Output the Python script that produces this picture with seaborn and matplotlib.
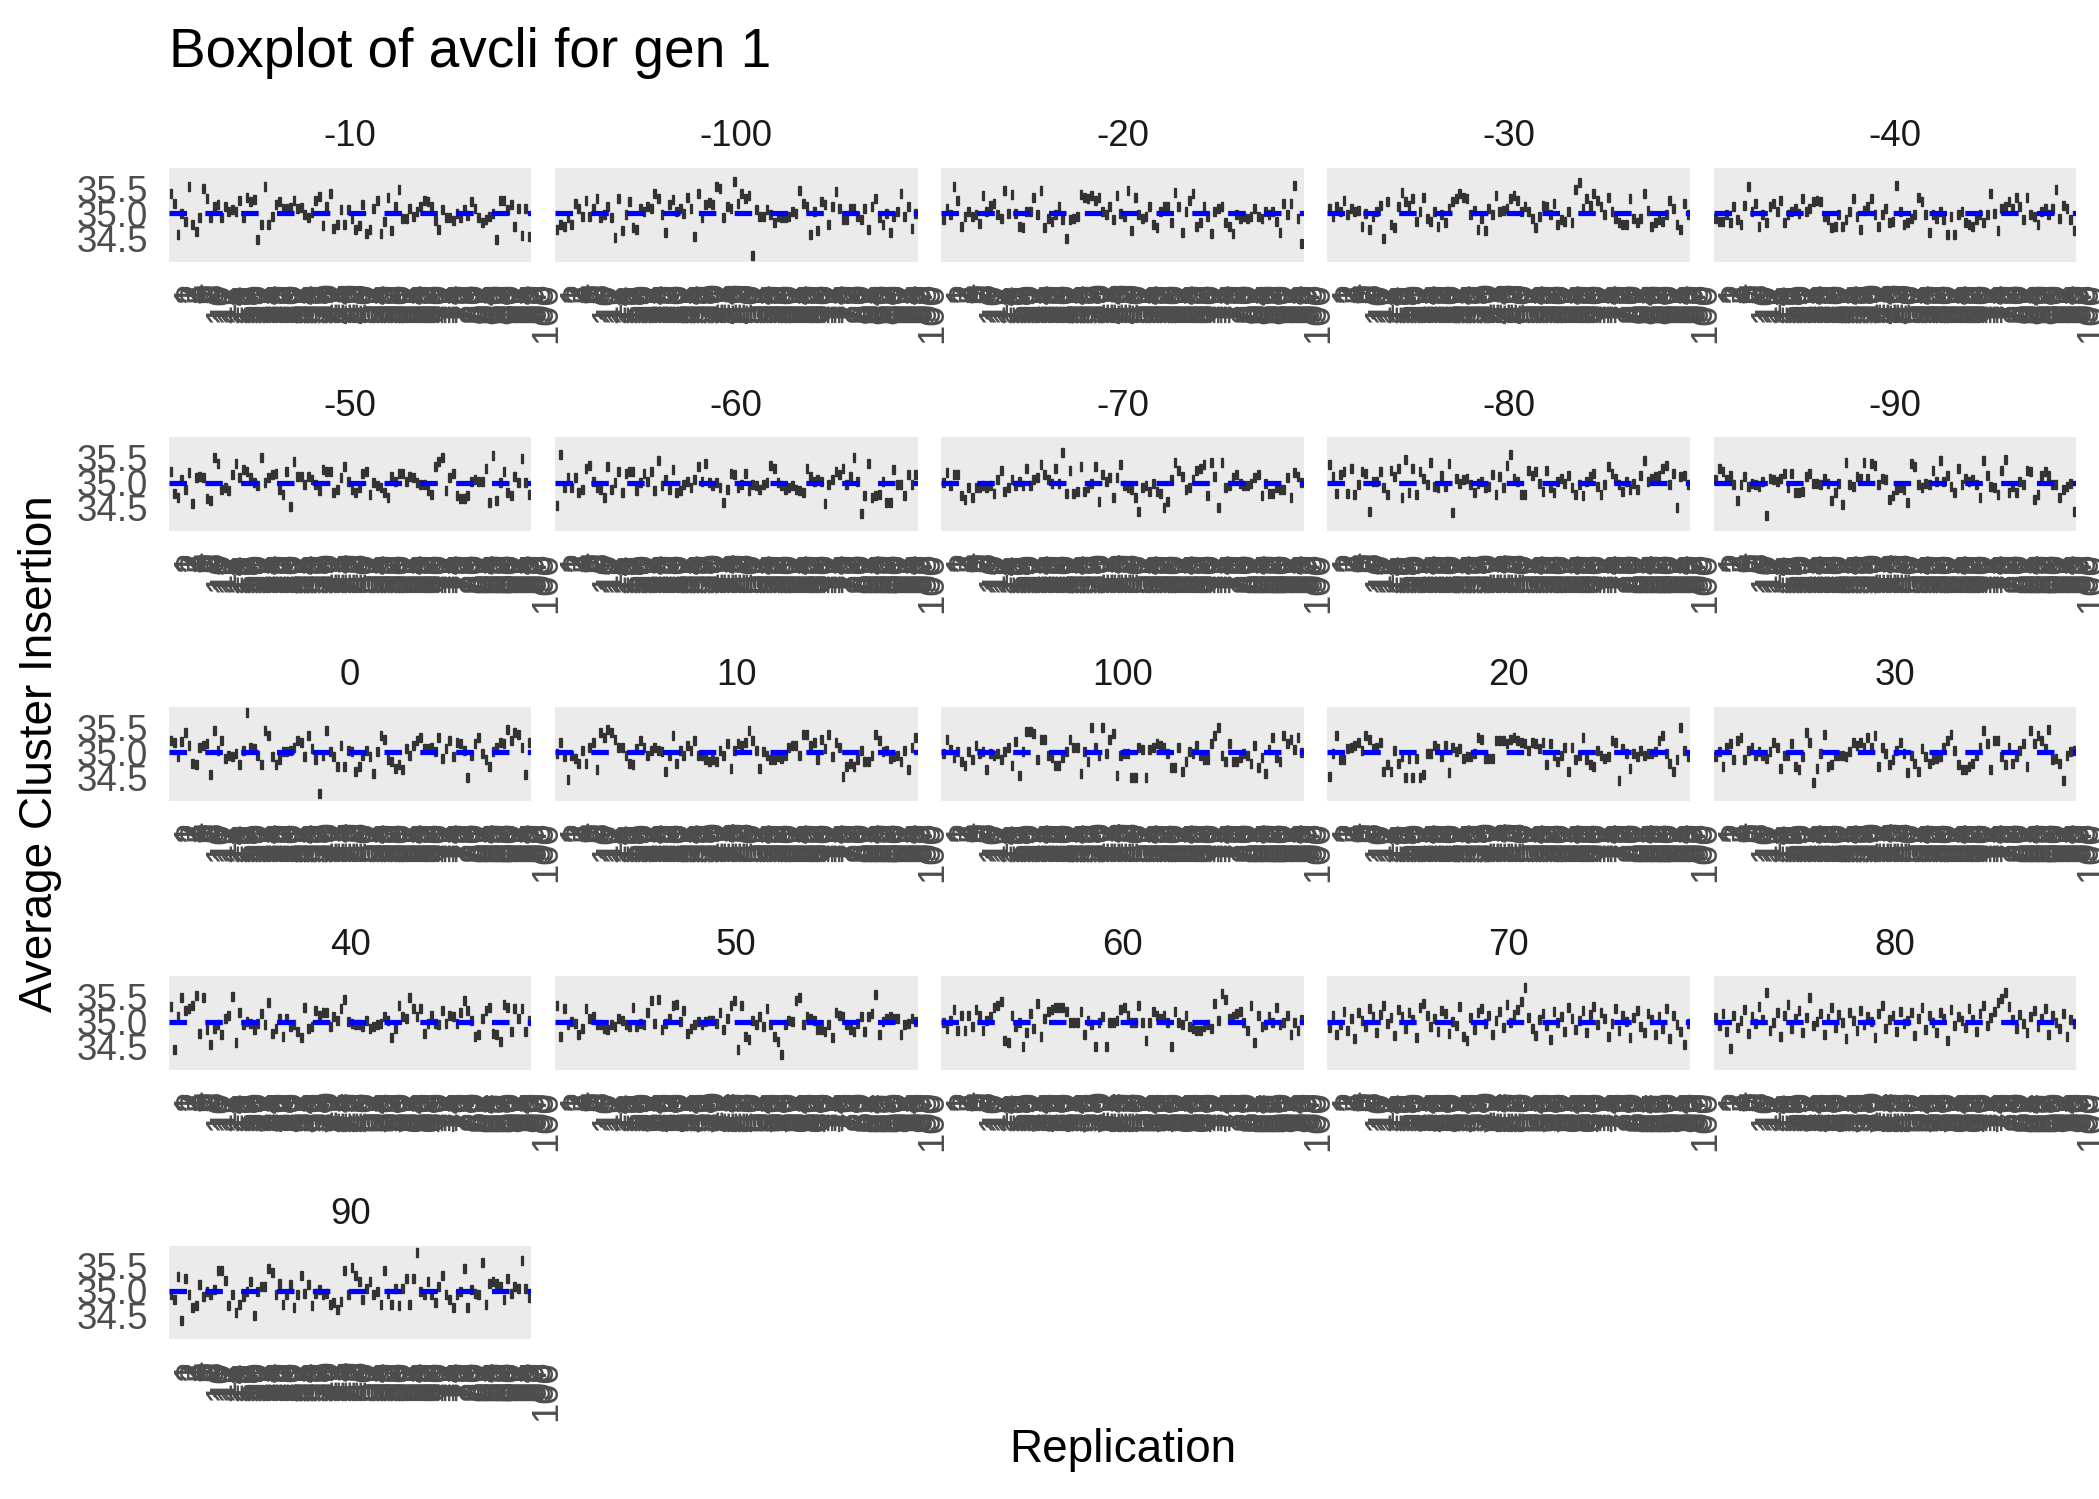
import numpy as np
import pandas as pd
import seaborn as sns
import matplotlib
matplotlib.use("Agg")
import matplotlib.pyplot as plt

sns.set_theme(style="white")
plt.rcParams["font.family"] = ["Liberation Sans", "DejaVu Sans"]

# facet labels in the order ggplot lays them out (string sort)
facets = ["-10", "-100", "-20", "-30", "-40",
          "-50", "-60", "-70", "-80", "-90",
          "0", "10", "100", "20", "30",
          "40", "50", "60", "70", "80",
          "90"]
replications = list(range(1, 101))

# per-replication box centre (left to right)
avcli_m10 = [35.39, 35.19, 34.57, 35.00, 34.83, 35.54, 34.78, 34.63, 34.91, 35.50,
             35.30, 34.91, 35.14, 35.18, 34.92, 35.14, 35.04, 35.07, 35.04, 35.26,
             34.91, 35.32, 35.23, 35.28, 34.47, 34.78, 35.53, 34.78, 34.94, 35.17,
             35.23, 35.10, 35.10, 35.12, 35.26, 35.10, 35.12, 34.97, 34.91, 35.02,
             35.26, 35.33, 34.75, 35.14, 35.39, 34.70, 34.78, 35.07, 34.78, 35.07,
             34.90, 34.68, 34.75, 35.17, 34.60, 34.68, 35.10, 35.25, 34.59, 34.83,
             35.32, 34.65, 35.14, 35.47, 34.90, 34.90, 35.10, 34.94, 35.04, 35.14,
             35.26, 35.24, 35.14, 34.85, 34.68, 35.07, 34.91, 34.91, 34.85, 35.00,
             34.91, 35.07, 34.95, 35.23, 35.10, 34.92, 34.81, 34.88, 34.94, 35.00,
             34.47, 35.26, 35.26, 35.07, 35.17, 34.73, 35.10, 34.55, 35.10, 34.54]
avcli_m100 = [34.68, 34.78, 34.73, 34.91, 34.78, 35.20, 35.10, 34.94, 35.26, 34.94,
              35.10, 35.30, 34.91, 34.97, 35.14, 34.91, 34.52, 35.30, 34.65, 34.97,
              35.23, 34.72, 34.67, 35.10, 35.04, 35.14, 35.10, 35.39, 35.30, 34.97,
              34.62, 35.17, 35.28, 35.04, 35.10, 35.00, 35.31, 35.10, 34.54, 35.39,
              34.91, 35.17, 35.22, 35.17, 35.54, 35.49, 34.91, 35.14, 35.10, 35.63,
              35.20, 35.39, 35.30, 35.35, 34.15, 35.07, 34.94, 34.94, 35.07, 34.97,
              34.81, 34.94, 34.91, 34.91, 34.94, 35.04, 35.00, 35.45, 35.20, 35.14,
              34.57, 35.04, 34.66, 35.23, 35.17, 34.78, 35.14, 35.43, 35.10, 34.88,
              34.88, 35.10, 35.10, 34.94, 34.88, 35.10, 34.68, 35.14, 35.30, 34.91,
              34.78, 35.00, 34.62, 34.94, 35.04, 35.39, 34.94, 35.14, 34.70, 34.99]
avcli_m20 = [34.87, 35.10, 34.97, 35.54, 35.25, 34.74, 34.94, 35.03, 34.94, 34.97,
             34.79, 35.35, 35.03, 35.16, 35.19, 34.97, 34.90, 35.45, 35.00, 35.37,
             35.00, 34.74, 34.72, 35.03, 35.03, 35.31, 34.97, 35.45, 34.71, 34.90,
             34.84, 34.97, 35.13, 34.87, 34.50, 34.87, 34.90, 34.94, 35.37, 35.31,
             35.29, 35.35, 35.26, 35.32, 35.03, 34.97, 35.13, 34.87, 35.35, 35.00,
             34.94, 35.45, 34.65, 35.32, 34.97, 34.90, 34.94, 35.13, 34.77, 34.71,
             35.03, 35.13, 35.13, 34.81, 35.42, 35.13, 34.61, 35.03, 35.26, 35.39,
             34.74, 34.81, 35.13, 34.94, 34.59, 35.03, 35.10, 35.13, 34.81, 34.74,
             34.59, 34.97, 34.90, 34.94, 34.90, 34.94, 35.10, 34.94, 34.90, 35.03,
             34.97, 35.03, 34.84, 34.61, 35.19, 34.97, 35.19, 35.55, 34.90, 34.39]
avcli_m30 = [35.10, 34.94, 35.13, 35.03, 35.26, 34.97, 35.10, 35.03, 35.06, 34.74,
             35.00, 34.68, 34.94, 35.03, 35.16, 34.50, 35.23, 34.77, 34.71, 35.13,
             35.42, 35.23, 35.16, 35.29, 34.84, 35.03, 35.32, 34.90, 34.84, 35.03,
             34.74, 34.97, 34.81, 35.10, 35.23, 35.29, 35.39, 35.32, 35.29, 34.97,
             35.06, 34.68, 34.90, 34.65, 35.10, 34.97, 35.35, 35.03, 35.06, 35.10,
             35.29, 35.35, 35.26, 35.03, 35.13, 35.03, 34.90, 34.71, 34.94, 35.16,
             35.13, 34.97, 35.19, 34.77, 34.87, 34.84, 35.03, 34.81, 35.48, 35.61,
             35.10, 35.29, 35.16, 35.39, 35.26, 35.13, 34.97, 35.32, 35.03, 34.90,
             34.81, 34.77, 34.77, 35.29, 34.90, 34.81, 34.90, 35.39, 35.06, 34.74,
             34.81, 34.87, 34.84, 34.97, 35.26, 35.10, 34.77, 34.68, 35.19, 34.97]
avcli_m40 = [34.90, 34.84, 34.84, 34.97, 34.81, 35.13, 34.87, 34.77, 35.16, 35.54,
             35.03, 35.19, 34.74, 34.97, 34.81, 35.13, 35.19, 35.03, 35.26, 34.81,
             34.97, 35.03, 35.10, 35.00, 35.29, 35.03, 35.10, 35.23, 35.26, 35.23,
             34.94, 34.87, 34.71, 34.74, 34.97, 34.74, 34.87, 35.03, 35.29, 34.94,
             34.68, 35.06, 35.13, 35.29, 34.97, 34.74, 34.97, 35.10, 34.81, 34.84,
             35.56, 35.03, 34.77, 34.81, 34.90, 34.97, 35.32, 35.23, 34.97, 34.61,
             34.97, 34.90, 35.03, 34.87, 34.58, 34.94, 34.58, 34.97, 35.03, 34.81,
             34.77, 34.74, 34.87, 34.97, 34.81, 34.97, 35.39, 35.00, 34.65, 35.10,
             35.13, 35.23, 35.10, 35.32, 35.13, 34.87, 35.32, 34.97, 34.94, 34.77,
             35.03, 35.10, 34.97, 35.10, 35.47, 34.90, 35.16, 35.10, 34.87, 34.65]
avcli_m50 = [35.22, 34.79, 34.71, 35.06, 34.87, 35.21, 34.59, 35.11, 35.13, 35.10,
             34.68, 34.65, 35.51, 35.38, 34.87, 34.90, 34.84, 35.16, 35.38, 35.10,
             35.26, 35.22, 35.10, 35.00, 34.94, 35.51, 35.00, 35.10, 35.16, 35.19,
             34.87, 34.77, 35.22, 34.53, 35.42, 35.13, 35.13, 34.96, 35.13, 35.06,
             34.96, 34.84, 35.26, 35.22, 35.22, 34.81, 34.87, 35.10, 35.32, 35.03,
             34.87, 34.81, 34.90, 35.19, 35.22, 34.77, 35.00, 34.94, 34.90, 34.81,
             34.71, 35.13, 35.03, 35.19, 35.19, 35.03, 35.13, 35.10, 35.00, 34.96,
             34.96, 34.84, 34.77, 35.32, 35.42, 35.51, 34.84, 35.10, 35.19, 34.74,
             34.68, 34.68, 34.74, 35.03, 35.06, 35.03, 35.03, 35.29, 34.61, 35.54,
             34.65, 35.00, 35.22, 34.81, 34.74, 35.13, 35.00, 35.49, 35.00, 34.77]
avcli_m60 = [34.55, 35.57, 34.90, 35.10, 34.90, 35.10, 34.81, 34.87, 35.29, 35.35,
             35.03, 34.90, 34.87, 34.71, 35.32, 34.87, 35.00, 35.22, 34.81, 35.19,
             35.22, 35.22, 34.84, 35.00, 35.19, 35.03, 35.22, 34.84, 35.45, 34.94,
             35.06, 34.87, 35.26, 34.81, 34.84, 34.96, 35.03, 34.90, 35.06, 35.32,
             35.03, 35.38, 35.00, 34.94, 35.00, 34.90, 34.61, 34.87, 35.19, 35.16,
             34.90, 34.96, 35.19, 34.84, 34.96, 34.94, 34.87, 34.96, 35.00, 35.35,
             35.29, 35.00, 34.94, 34.87, 34.90, 34.94, 34.87, 34.84, 34.81, 35.29,
             35.13, 35.03, 35.06, 35.03, 34.58, 34.96, 35.06, 35.22, 35.16, 35.29,
             34.96, 35.13, 35.51, 35.03, 34.38, 34.74, 35.38, 34.71, 34.74, 34.77,
             35.03, 34.61, 34.61, 35.26, 34.96, 34.96, 34.74, 35.16, 34.96, 35.16]
avcli_m70 = [35.00, 35.21, 34.94, 35.17, 35.17, 34.74, 34.66, 34.90, 34.70, 34.90,
             34.90, 34.94, 34.90, 34.94, 34.78, 35.06, 35.25, 34.82, 34.90, 35.06,
             34.94, 35.02, 34.94, 35.29, 34.94, 35.06, 35.10, 35.37, 35.17, 35.06,
             34.98, 35.29, 34.98, 35.61, 34.78, 35.25, 34.78, 34.82, 35.33, 34.82,
             34.90, 34.98, 35.33, 34.62, 35.17, 35.02, 35.10, 34.70, 35.10, 35.37,
             34.94, 34.90, 34.86, 34.70, 34.42, 34.90, 34.94, 34.82, 34.98, 34.82,
             34.78, 34.50, 34.62, 35.06, 35.41, 35.25, 35.13, 34.86, 34.90, 35.06,
             35.25, 35.29, 35.37, 34.74, 35.41, 35.13, 34.50, 35.41, 34.90, 34.94,
             35.10, 35.17, 34.98, 34.94, 34.94, 34.98, 35.10, 35.17, 34.74, 34.98,
             34.78, 34.78, 34.90, 34.86, 34.86, 35.10, 34.70, 35.21, 35.13, 35.00]
avcli_m80 = [35.36, 35.12, 34.78, 35.17, 35.22, 34.78, 35.28, 34.77, 34.96, 35.22,
             35.19, 34.43, 35.03, 35.03, 35.22, 34.90, 34.77, 35.25, 35.12, 35.28,
             34.70, 35.46, 34.80, 35.28, 34.77, 35.22, 35.09, 34.96, 35.41, 34.93,
             34.90, 35.15, 34.93, 35.38, 34.40, 35.09, 34.99, 35.06, 35.09, 34.96,
             34.80, 34.99, 35.03, 34.90, 34.93, 35.17, 34.77, 35.12, 34.90, 35.35,
             35.57, 35.09, 35.03, 34.77, 34.77, 35.25, 35.15, 35.22, 34.99, 34.83,
             35.25, 34.90, 34.80, 35.03, 35.09, 34.99, 35.15, 34.90, 34.77, 34.96,
             34.74, 35.03, 35.12, 35.19, 34.93, 34.77, 34.96, 35.32, 35.19, 35.09,
             34.96, 34.83, 35.03, 34.86, 34.99, 34.86, 35.15, 35.44, 35.03, 35.09,
             35.12, 35.15, 35.28, 35.35, 34.96, 35.19, 34.50, 35.12, 35.15, 34.96]
avcli_m90 = [35.06, 35.28, 35.22, 35.06, 35.15, 34.96, 34.64, 34.96, 35.12, 34.93,
             34.99, 34.96, 34.93, 35.03, 34.35, 35.09, 35.06, 35.03, 35.09, 35.19,
             34.90, 35.19, 34.80, 34.80, 34.83, 35.12, 35.19, 34.99, 34.99, 34.96,
             35.09, 34.99, 34.64, 34.80, 34.99, 34.57, 35.40, 34.96, 34.93, 35.12,
             35.09, 35.41, 35.09, 35.38, 35.35, 34.96, 35.09, 35.06, 34.67, 34.74,
             34.86, 34.90, 34.86, 34.61, 35.38, 35.32, 34.96, 34.90, 34.99, 34.96,
             35.25, 35.03, 35.44, 35.03, 35.15, 34.93, 34.80, 35.28, 34.96, 35.09,
             35.03, 35.06, 34.96, 34.70, 35.44, 35.15, 34.93, 34.90, 34.77, 35.25,
             35.46, 34.80, 34.93, 34.80, 35.03, 34.96, 35.25, 35.22, 34.67, 34.77,
             35.15, 35.22, 35.15, 34.96, 34.96, 34.70, 34.86, 34.93, 34.99, 34.42]
avcli_0 = [35.23, 35.20, 34.91, 35.21, 35.39, 35.14, 34.78, 34.75, 35.10, 35.14,
           35.17, 34.55, 35.43, 35.04, 35.23, 34.88, 34.94, 34.91, 34.97, 34.75,
           35.04, 35.79, 35.10, 35.07, 34.94, 34.75, 35.43, 35.33, 34.91, 34.75,
           34.85, 35.01, 35.01, 35.04, 35.10, 35.23, 35.20, 34.91, 35.33, 35.07,
           34.85, 34.17, 34.94, 35.43, 35.01, 34.91, 34.72, 35.14, 34.72, 35.04,
           35.01, 34.61, 34.72, 34.94, 35.04, 34.91, 34.57, 35.01, 35.33, 35.26,
           34.85, 34.81, 34.68, 34.75, 34.65, 35.07, 34.94, 35.14, 35.23, 35.30,
           35.07, 35.07, 35.10, 35.01, 35.30, 34.88, 35.07, 35.23, 34.91, 35.20,
           35.17, 35.04, 34.49, 34.94, 35.17, 35.30, 34.97, 34.85, 34.72, 35.01,
           35.10, 35.20, 35.17, 35.46, 35.23, 35.39, 35.36, 35.10, 34.55, 35.20]
avcli_10 = [34.97, 35.20, 34.91, 34.46, 34.94, 34.88, 34.78, 35.04, 34.78, 35.10,
            35.20, 34.65, 35.39, 35.30, 35.46, 35.39, 35.26, 35.10, 35.10, 34.94,
            34.78, 34.75, 35.07, 35.23, 35.10, 34.94, 35.04, 35.10, 35.04, 35.01,
            34.61, 34.94, 35.33, 34.78, 35.04, 34.94, 35.14, 35.04, 35.23, 34.94,
            34.94, 34.85, 34.81, 34.85, 34.81, 35.04, 34.94, 35.17, 34.68, 35.04,
            35.17, 35.14, 35.20, 35.43, 35.23, 35.04, 34.68, 35.01, 34.94, 34.85,
            34.85, 34.91, 34.88, 34.94, 35.10, 35.14, 35.14, 34.94, 35.36, 35.36,
            35.14, 35.20, 34.85, 35.26, 35.07, 35.36, 34.91, 35.20, 35.10, 34.52,
            34.72, 34.78, 34.72, 34.85, 35.04, 34.81, 34.81, 34.94, 35.36, 35.23,
            35.01, 35.04, 34.88, 34.91, 34.94, 34.81, 35.04, 34.65, 35.10, 35.30]
avcli_100 = [34.98, 35.25, 35.05, 34.89, 35.01, 34.81, 34.73, 35.01, 34.85, 35.13,
             34.98, 35.01, 34.65, 34.98, 34.93, 34.98, 34.85, 35.01, 35.09, 34.73,
             35.21, 34.53, 35.01, 35.41, 35.41, 35.37, 34.85, 35.25, 35.25, 34.93,
             34.89, 34.73, 34.73, 34.89, 35.01, 35.25, 35.09, 35.09, 34.57, 35.01,
             34.81, 35.49, 35.09, 34.93, 35.49, 34.98, 35.25, 35.37, 34.53, 34.93,
             34.98, 34.98, 34.49, 34.49, 35.09, 35.05, 34.49, 35.05, 35.09, 35.17,
             35.13, 35.09, 34.98, 34.69, 34.69, 35.09, 34.61, 34.81, 35.01, 34.98,
             35.13, 34.93, 34.85, 34.85, 35.17, 35.33, 35.49, 34.93, 34.81, 35.17,
             34.81, 34.81, 34.89, 34.98, 34.93, 34.77, 35.13, 34.69, 34.89, 34.57,
             35.05, 35.29, 34.89, 34.81, 35.33, 35.17, 35.25, 35.05, 35.29, 35.00]
avcli_20 = [34.52, 34.97, 35.33, 34.85, 34.85, 35.07, 35.10, 35.14, 35.20, 35.04,
            35.33, 35.26, 35.07, 35.10, 35.20, 34.61, 34.75, 34.61, 35.04, 34.78,
            34.91, 34.49, 34.88, 34.49, 34.88, 34.49, 34.55, 34.97, 34.97, 35.14,
            35.07, 34.91, 35.14, 34.59, 35.10, 35.01, 35.07, 34.88, 34.91, 34.91,
            34.97, 35.30, 35.26, 34.88, 34.88, 34.88, 35.23, 35.23, 35.23, 35.17,
            35.26, 35.30, 35.23, 35.20, 35.17, 35.04, 35.20, 35.17, 35.07, 35.20,
            34.75, 35.17, 34.94, 34.81, 34.94, 35.10, 34.61, 35.10, 34.85, 34.94,
            35.30, 34.85, 34.75, 34.72, 35.04, 34.94, 34.88, 34.91, 35.23, 35.20,
            34.43, 35.07, 34.97, 34.68, 34.97, 34.91, 35.04, 34.94, 34.97, 34.97,
            35.01, 35.23, 35.33, 34.97, 34.78, 34.61, 34.85, 35.49, 35.04, 34.91]
avcli_30 = [34.91, 35.01, 34.72, 35.10, 35.17, 34.85, 35.23, 35.30, 34.85, 35.04,
            35.10, 34.94, 35.01, 34.94, 34.88, 35.01, 35.20, 35.10, 34.68, 34.94,
            34.94, 35.17, 34.72, 34.65, 34.91, 35.39, 35.20, 34.40, 34.68, 34.97,
            35.36, 34.72, 34.75, 34.94, 34.94, 34.94, 34.91, 35.01, 35.20, 35.14,
            35.20, 35.10, 35.30, 35.10, 35.33, 34.72, 35.10, 34.97, 34.75, 34.85,
            35.04, 35.20, 34.97, 34.59, 34.94, 34.78, 34.61, 35.07, 34.91, 34.78,
            34.85, 34.88, 34.91, 35.10, 35.23, 35.36, 35.04, 34.75, 34.65, 34.65,
            34.72, 34.78, 34.94, 35.10, 35.43, 35.17, 34.65, 35.23, 35.23, 34.91,
            34.75, 35.10, 34.78, 34.91, 35.04, 35.17, 34.72, 35.43, 35.17, 35.33,
            35.23, 35.07, 35.46, 34.85, 34.88, 34.78, 34.43, 34.94, 35.01, 35.04]
avcli_40 = [35.31, 34.45, 35.10, 35.48, 35.23, 35.27, 35.32, 35.52, 34.77, 35.48,
            34.84, 34.55, 34.87, 34.94, 34.74, 35.06, 35.13, 35.50, 34.58, 35.19,
            34.94, 35.00, 34.97, 34.84, 34.97, 35.16, 34.94, 35.39, 34.77, 34.87,
            35.06, 34.71, 35.06, 34.90, 34.94, 34.81, 34.68, 35.29, 34.87, 34.90,
            35.23, 35.13, 35.19, 35.19, 34.90, 35.10, 35.03, 35.26, 35.45, 35.00,
            34.97, 34.94, 34.94, 34.90, 35.03, 34.87, 34.90, 34.94, 34.97, 35.10,
            35.03, 34.68, 34.87, 35.32, 35.10, 35.06, 35.48, 35.26, 35.10, 35.26,
            34.77, 34.97, 35.13, 34.97, 34.94, 35.23, 34.97, 35.13, 35.10, 34.97,
            35.19, 35.42, 35.23, 35.03, 34.71, 34.74, 35.06, 35.23, 35.29, 34.77,
            34.74, 34.61, 35.35, 35.29, 34.81, 35.26, 35.06, 35.26, 34.81, 35.03]
avcli_50 = [35.32, 34.71, 35.26, 34.94, 35.00, 34.97, 34.74, 34.87, 35.26, 35.06,
            35.10, 34.94, 34.94, 34.87, 34.84, 34.94, 34.90, 35.06, 35.03, 34.94,
            34.90, 35.29, 34.90, 34.97, 34.94, 35.19, 35.42, 34.97, 35.45, 34.84,
            34.97, 35.06, 35.32, 35.35, 35.00, 35.23, 34.77, 34.87, 34.94, 35.00,
            34.94, 35.00, 35.03, 35.03, 34.97, 35.19, 34.84, 35.06, 35.32, 35.42,
            34.45, 35.32, 34.71, 34.65, 35.03, 34.94, 35.10, 34.90, 35.26, 34.94,
            34.71, 34.61, 34.35, 34.94, 35.03, 35.00, 35.42, 35.48, 34.94, 35.10,
            35.06, 35.03, 34.84, 34.84, 34.81, 34.94, 34.68, 35.19, 35.13, 35.10,
            34.94, 34.84, 34.81, 34.97, 35.10, 34.81, 35.10, 35.16, 35.55, 34.74,
            35.00, 35.06, 35.10, 35.06, 35.06, 34.74, 34.94, 34.97, 35.06, 35.00]
avcli_60 = [34.98, 34.86, 35.02, 35.25, 34.82, 35.13, 34.82, 35.13, 34.90, 35.25,
            35.13, 34.82, 35.02, 35.10, 35.29, 35.33, 35.41, 34.62, 34.58, 35.13,
            34.90, 34.98, 34.50, 34.78, 35.17, 34.86, 35.37, 34.70, 35.06, 35.21,
            35.25, 35.29, 35.29, 35.29, 35.21, 34.98, 34.98, 34.98, 35.21, 34.74,
            35.02, 34.94, 34.50, 34.98, 35.10, 34.50, 34.98, 34.98, 35.02, 35.25,
            35.29, 35.13, 34.98, 34.98, 35.33, 34.98, 34.62, 34.98, 35.21, 35.13,
            35.06, 35.13, 34.98, 34.50, 35.21, 34.98, 34.94, 35.13, 34.90, 34.86,
            34.82, 34.82, 34.90, 34.94, 34.86, 35.37, 35.02, 35.57, 35.45, 35.06,
            35.10, 35.17, 35.21, 34.98, 34.82, 35.33, 34.58, 35.13, 34.90, 34.94,
            35.10, 34.98, 35.29, 34.94, 34.98, 35.13, 34.74, 34.98, 34.82, 35.05]
avcli_70 = [34.88, 35.12, 34.74, 34.95, 35.21, 34.83, 35.06, 34.66, 35.18, 35.02,
            34.91, 35.27, 35.10, 34.79, 35.15, 35.33, 34.97, 35.08, 34.72, 35.24,
            35.11, 34.86, 35.19, 35.04, 34.69, 35.28, 35.36, 35.13, 34.90, 35.07,
            34.81, 35.22, 35.16, 34.77, 35.01, 34.93, 35.30, 34.70, 34.62, 35.09,
            34.84, 35.18, 35.26, 34.96, 35.12, 34.75, 35.03, 35.21, 34.89, 35.35,
            34.98, 35.14, 35.25, 35.40, 35.68, 35.09, 34.87, 34.73, 35.05, 35.17,
            34.92, 34.64, 35.20, 34.99, 35.11, 34.80, 35.29, 35.06, 34.85, 35.02,
            35.23, 34.78, 35.14, 35.31, 34.94, 35.19, 35.07, 34.71, 34.96, 35.26,
            34.83, 35.13, 35.00, 34.68, 35.08, 35.22, 34.90, 34.79, 35.16, 35.04,
            34.74, 35.10, 34.86, 35.27, 34.66, 35.12, 34.95, 34.81, 34.55, 34.97]
avcli_80 = [35.08, 34.92, 35.17, 34.81, 34.47, 35.13, 34.88, 35.02, 35.24, 34.76,
            35.11, 34.97, 35.30, 35.04, 35.58, 34.83, 34.99, 35.19, 34.71, 35.12,
            35.34, 34.86, 35.07, 35.22, 34.79, 35.09, 35.49, 34.93, 35.01, 35.17,
            34.74, 35.06, 35.28, 34.89, 35.14, 34.98, 34.66, 35.18, 35.03, 34.82,
            35.23, 34.94, 35.11, 35.01, 34.69, 35.16, 35.33, 34.87, 35.05, 35.13,
            34.80, 35.21, 34.96, 35.02, 35.19, 34.73, 35.07, 35.29, 34.85, 35.12,
            34.99, 34.78, 35.18, 35.06, 34.63, 35.24, 34.92, 35.10, 35.03, 34.88,
            35.27, 35.04, 34.81, 35.16, 35.32, 34.93, 35.09, 35.21, 35.38, 35.47,
            35.58, 35.31, 35.04, 34.86, 35.14, 34.97, 34.79, 35.11, 35.23, 34.91,
            35.06, 35.26, 34.75, 35.12, 34.98, 34.87, 35.17, 34.70, 35.04, 34.96]
avcli_90 = [34.92, 34.83, 35.28, 34.41, 35.25, 34.92, 34.66, 34.70, 35.12, 34.89,
            34.99, 34.92, 35.02, 35.41, 35.41, 35.21, 34.70, 34.92, 34.57, 34.73,
            34.89, 34.99, 35.18, 34.50, 34.99, 35.08, 35.08, 35.44, 35.37, 34.92,
            35.15, 34.73, 34.92, 35.12, 34.66, 34.92, 35.31, 34.95, 35.12, 34.70,
            34.95, 35.02, 34.92, 34.95, 34.73, 34.76, 34.63, 34.79, 35.41, 34.92,
            35.47, 35.31, 35.18, 34.83, 35.05, 35.18, 34.92, 34.99, 34.73, 35.41,
            34.95, 34.73, 35.05, 34.70, 35.05, 35.25, 34.73, 35.25, 35.76, 34.99,
            34.92, 35.18, 34.92, 34.76, 35.08, 35.31, 34.92, 34.83, 34.66, 34.92,
            34.99, 35.44, 34.66, 35.02, 34.95, 34.92, 35.57, 34.73, 35.15, 35.18,
            35.15, 35.08, 34.83, 35.25, 34.95, 35.08, 35.05, 35.60, 35.05, 34.86]

facet_values = {
    "-10": avcli_m10, "-100": avcli_m100, "-20": avcli_m20, "-30": avcli_m30,
    "-40": avcli_m40, "-50": avcli_m50, "-60": avcli_m60, "-70": avcli_m70,
    "-80": avcli_m80, "-90": avcli_m90, "0": avcli_0, "10": avcli_10,
    "100": avcli_100, "20": avcli_20, "30": avcli_30, "40": avcli_40,
    "50": avcli_50, "60": avcli_60, "70": avcli_70, "80": avcli_80,
    "90": avcli_90,
}
target = 35.0

# each replication is a tiny box around its centre
half_box = 0.09
rows = []
for fac in facets:
    for rep, c in zip(replications, facet_values[fac]):
        for v in (c - half_box, c - half_box, c + half_box, c + half_box):
            rows.append((fac, rep, v))
df = pd.DataFrame(rows, columns=["facet", "replication", "avcli"])

W, H = 2099, 1499
fig, axes = plt.subplots(5, 5, figsize=(W / 300, H / 300), dpi=300)
fig.subplots_adjust(left=168.7 / W, right=2076.3 / W,
                    top=1 - 168.1 / H, bottom=1 - 1339.3 / H,
                    wspace=0.0645, hspace=1.878)

tick_col = "#4D4D4D"
box_col = "#333333"
for k, ax in enumerate(axes.flat):
    if k >= len(facets):
        ax.remove()
        continue
    fac = facets[k]
    sub = df[df["facet"] == fac]
    sns.boxplot(data=sub, x="replication", y="avcli", order=replications,
                ax=ax, width=0.75, color=box_col, linecolor=box_col,
                linewidth=0.3, saturation=1, fliersize=0)
    ax.axhline(target, color="blue", lw=1.25, dashes=(4.2 / 1.25, 4.4 / 1.25),
               zorder=5)
    ax.set_facecolor("#EBEBEB")
    for s in ax.spines.values():
        s.set_visible(False)
    ax.set_xlim(-0.6, len(replications) - 0.4)
    ax.set_ylim(34.034, 35.906)
    ax.set_yticks([34.5, 35.0, 35.5])
    ax.set_yticklabels(["34.5", "35.0", "35.5"], fontsize=8.8, color=tick_col)
    ax.set_xticks(range(len(replications)))
    # vertical labels hang to the right of their tick, as in the original
    ax.set_xticklabels([str(r) for r in replications], rotation=90,
                       ha="left", va="top", fontsize=8.8, color=tick_col)
    ax.tick_params(axis="both", length=0, pad=5.0)
    if k % 5 != 0:
        ax.tick_params(labelleft=False)
    ax.set_xlabel("")
    ax.set_ylabel("")
    ax.grid(False)
    # facet strip label
    ax.text(0.5, 1 + 21.7 / 93.6, fac, transform=ax.transAxes,
            ha="center", va="baseline", fontsize=8.8, color="#1A1A1A")

fig.text(168.7 / W, 1 - 67 / H, "Boxplot of avcli for gen 1",
         ha="left", va="baseline", fontsize=13.2, color="black")
fig.text(1122.5 / W, 1 - 1450 / H, "Replication",
         ha="center", va="center", fontsize=11, color="black")
fig.text(40 / W, 1 - 754 / H, "Average Cluster Insertion", rotation=90,
         ha="center", va="center", fontsize=11, color="black")

fig.savefig("out.png", dpi=300)
